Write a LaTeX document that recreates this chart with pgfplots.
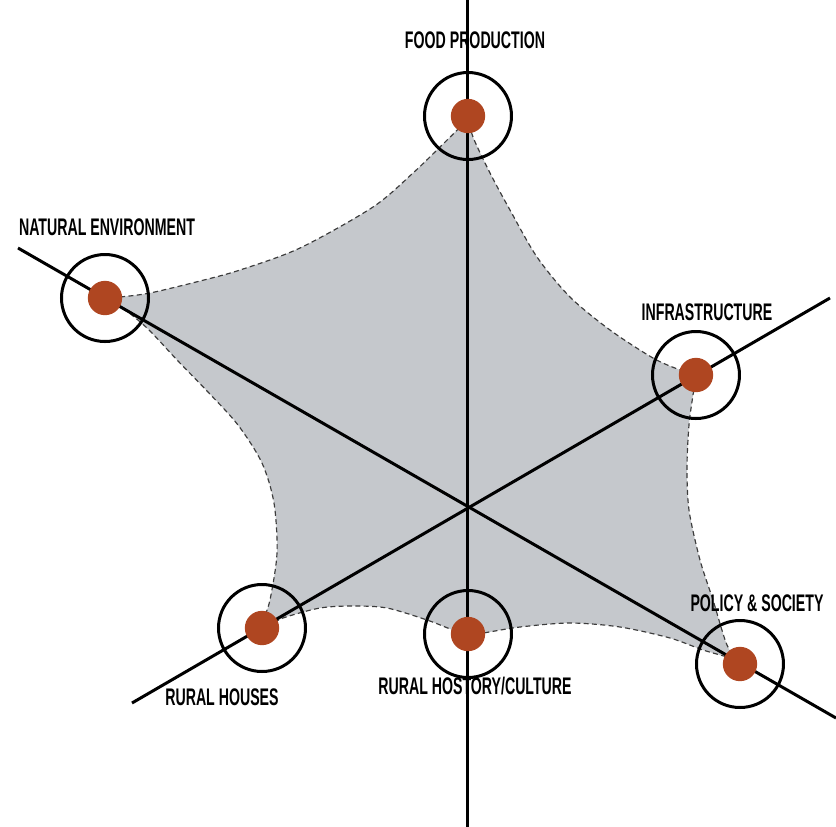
\documentclass[border=0pt]{standalone}
\usepackage{pgfplots}
\pgfplotsset{compat=1.18}
\usepackage{fontspec}
\newfontfamily\lab[FakeStretch=0.59]{Liberation Sans}
\definecolor{rust}{RGB}{175,70,33}
\definecolor{shade}{RGB}{197,200,204}
\definecolor{dash}{RGB}{60,60,60}

\begin{document}
\begin{tikzpicture}
% coordinates are picture pixels: x to the right, y downwards
\begin{axis}[
    scale only axis,
    width=250.8pt, height=248.1pt,
    xmin=0, xmax=836, ymin=0, ymax=827,
    y dir=reverse,
    hide axis,
    clip=false,
]

% shaded concave area with dashed outline
\addplot[fill=shade, draw=dash, line width=0.35pt, dash pattern=on 1.5pt off 1pt,
    smooth, tension=0.5] coordinates {
    (468,116) (473,137) (490,173) (510,210) (537,257) (570,297) (610,330)
    (653,358) (680,370) (696,375)
    (693,395) (689,425) (687,467) (689,510) (700,560) (713,600) (727,645)
    (740,664)
    (730,658) (703,650) (670,638) (620,627) (570,623) (520,627) (483,633)
    (468,634)
    (453,630) (427,620) (387,608) (353,606) (320,608) (283,618) (262,628)
    (270,600) (277,553) (274,503) (262,463) (238,425) (208,392) (178,361)
    (147,328) (120,306) (105,298)
    (120,297) (150,293) (200,281) (240,270) (300,248) (373,207) (413,173)
    (440,147) (460,127) (468,116)
};

% the three lines through the centre
\addplot[black, line width=0.9pt] coordinates {(468,0) (468,827)};
\addplot[black, line width=0.9pt] coordinates {(18,248) (836,718)};
\addplot[black, line width=0.9pt] coordinates {(132,703) (830,298)};

% rings
\addplot[only marks, mark=o, mark size=13.05pt, black, line width=0.9pt]
    coordinates {(468,116) (105,298) (696,375) (740,664) (468,634) (262,628)};

% dots
\addplot[only marks, mark=*, mark size=4.95pt, color=rust, draw=rust]
    coordinates {(468,116) (105,298) (696,375) (740,664) (468,634) (262,628)};

% labels
\begin{scope}[every node/.style={font=\lab\bfseries\fontsize{7.2}{8}\selectfont,
    text=black, inner sep=0pt}]
\node at (axis cs:475,40) {FOOD PRODUCTION};
\node at (axis cs:107,227) {NATURAL ENVIRONMENT};
\node at (axis cs:707,312) {INFRASTRUCTURE};
\node at (axis cs:757,603) {POLICY \& SOCIETY};
\node at (axis cs:222,697) {RURAL HOUSES};
\node at (axis cs:475,686) {RURAL HOSTORY/CULTURE};
\end{scope}

\end{axis}
\pgfresetboundingbox
\path (current axis.south west) rectangle (current axis.north east);
\end{tikzpicture}
\end{document}
